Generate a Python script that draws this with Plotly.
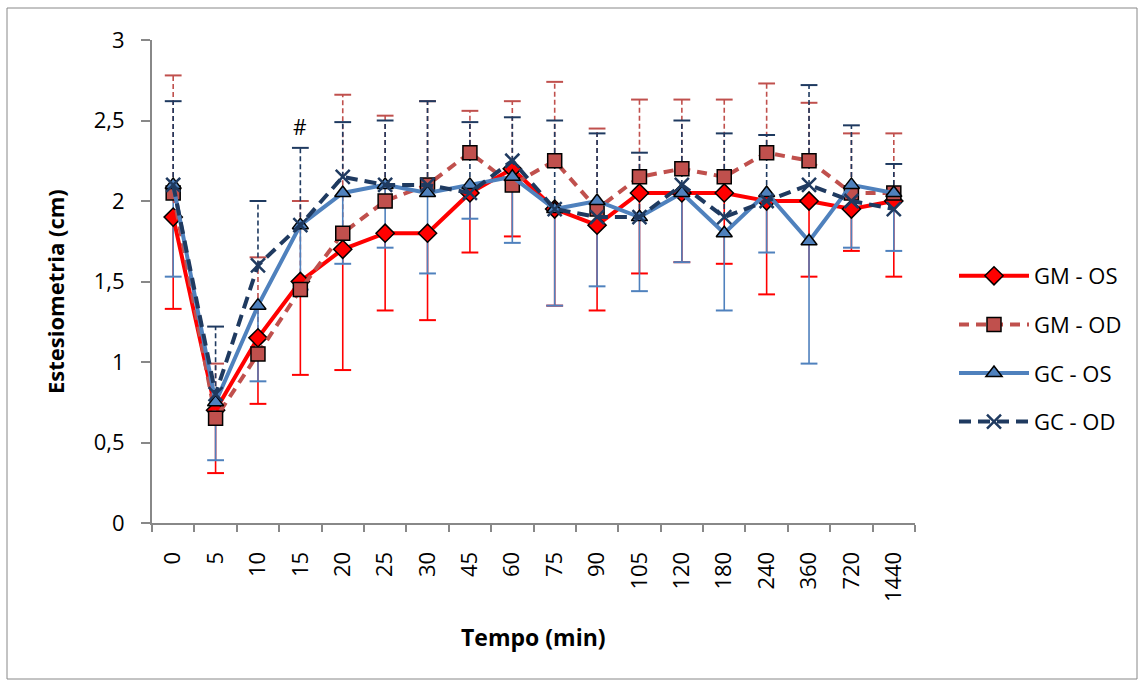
import plotly.graph_objects as go

# ---------------- data ----------------
times = ["0", "5", "10", "15", "20", "25", "30", "45", "60", "75", "90",
         "105", "120", "180", "240", "360", "720", "1440"]

gm_os = [1.90, 0.70, 1.15, 1.50, 1.70, 1.80, 1.80, 2.05, 2.20, 1.95, 1.85,
         2.05, 2.05, 2.05, 2.00, 2.00, 1.95, 2.00]
gm_os_sd = [0.57, 0.39, 0.41, 0.58, 0.75, 0.48, 0.54, 0.37, 0.42, 0.60, 0.53,
            0.50, 0.43, 0.44, 0.58, 0.47, 0.26, 0.47]

gm_od = [2.05, 0.65, 1.05, 1.45, 1.80, 2.00, 2.10, 2.30, 2.10, 2.25, 1.95,
         2.15, 2.20, 2.15, 2.30, 2.25, 2.05, 2.05]
gm_od_sd = [0.73, 0.34, 0.60, 0.55, 0.86, 0.53, 0.52, 0.26, 0.52, 0.49, 0.50,
            0.48, 0.43, 0.48, 0.43, 0.36, 0.37, 0.37]

gc_os = [2.10, 0.75, 1.35, 1.85, 2.05, 2.10, 2.05, 2.10, 2.15, 1.95, 2.00,
         1.90, 2.05, 1.80, 2.05, 1.75, 2.10, 2.05]
gc_os_sd = [0.57, 0.36, 0.47, 0.40, 0.44, 0.39, 0.50, 0.21, 0.41, 0.60, 0.53,
            0.46, 0.43, 0.48, 0.37, 0.76, 0.39, 0.36]

gc_od = [2.10, 0.80, 1.60, 1.85, 2.15, 2.10, 2.10, 2.05, 2.25, 1.95, 1.90,
         1.90, 2.10, 1.90, 2.00, 2.10, 2.00, 1.95]
gc_od_sd = [0.52, 0.42, 0.40, 0.48, 0.34, 0.40, 0.52, 0.44, 0.27, 0.55, 0.52,
            0.40, 0.40, 0.52, 0.41, 0.62, 0.47, 0.28]

series_names = ["GM - OS", "GM - OD", "GC - OS", "GC - OD"]
annot_text = "#"
annot_index = 3
annot_value = 2.46

# ---------------- styles ----------------
RED = "#FF0000"
BROWN = "#C0504D"
BLUE = "#4F81BD"
NAVY = "#1F3A60"
AXIS = "#888888"

W, H = 1141, 681
L, R, T, B = 152, 226, 40, 158
pw, ph = W - L - R, H - T - B

xs = list(range(len(times)))

fig = go.Figure()


def err_traces(vals, sds, sign, color, dash):
    ex, ey, cy = [], [], []
    for i, (v, s) in enumerate(zip(vals, sds)):
        end = v + sign * s
        ex += [i, i, None]
        ey += [v, end, None]
        cy.append(end)
    fig.add_trace(go.Scatter(x=ex, y=ey, mode="lines", showlegend=False,
                             hoverinfo="skip",
                             line=dict(color=color, width=1.6, dash=dash)))
    fig.add_trace(go.Scatter(x=xs, y=cy, mode="markers", showlegend=False,
                             hoverinfo="skip",
                             marker=dict(symbol="line-ew", size=12,
                                         line=dict(color=color, width=2))))


err_traces(gm_os, gm_os_sd, -1, RED, "solid")
err_traces(gm_od, gm_od_sd, +1, BROWN, "5px,3px")
err_traces(gc_os, gc_os_sd, -1, BLUE, "solid")
err_traces(gc_od, gc_od_sd, +1, NAVY, "5px,3px")

fig.add_trace(go.Scatter(
    x=xs, y=gm_os, name=series_names[0], mode="lines+markers",
    legendgroup="a",
    line=dict(color=RED, width=4),
    marker=dict(symbol="diamond", size=14, color=RED,
                line=dict(color="black", width=1.5))))
fig.add_trace(go.Scatter(
    x=xs, y=gm_od, name=series_names[1], mode="lines+markers",
    legendgroup="b",
    line=dict(color=BROWN, width=4, dash="10px,7px"),
    marker=dict(symbol="square", size=14, color=BROWN,
                line=dict(color="black", width=1.5))))
fig.add_trace(go.Scatter(
    x=xs, y=gc_os, name=series_names[2], mode="lines+markers",
    legendgroup="c",
    line=dict(color=BLUE, width=4),
    marker=dict(symbol="triangle-up", size=14, color=BLUE,
                line=dict(color="black", width=1.5))))
fig.add_trace(go.Scatter(
    x=xs, y=gc_od, name=series_names[3], mode="lines+markers",
    legendgroup="d",
    line=dict(color=NAVY, width=4, dash="12px,7px"),
    marker=dict(symbol="x-thin", size=14, color=NAVY,
                line=dict(color=NAVY, width=2.5))))

fig.add_annotation(x=annot_index, y=annot_value, text=annot_text,
                   showarrow=False, font=dict(family="Open Sans", size=21,
                                              color="black"))

# axis titles
fig.add_annotation(xref="paper", yref="paper", x=(55 - L) / pw,
                   y=(H - B - 291) / ph, text="<b>Estesiometria (cm)</b>",
                   textangle=-90, showarrow=False,
                   xanchor="center", yanchor="middle",
                   font=dict(family="Liberation Sans Narrow, Open Sans",
                             size=22, color="black"))
fig.add_annotation(xref="paper", yref="paper", x=(533 - L) / pw,
                   y=(H - B - 637) / ph, text="<b>Tempo (min)</b>",
                   showarrow=False, xanchor="center", yanchor="middle",
                   font=dict(family="Liberation Sans Narrow, Open Sans",
                             size=23, color="black"))

# outer chart border
fig.add_shape(type="rect", xref="paper", yref="paper",
              x0=(7 - L) / pw, x1=(1137 - L) / pw,
              y0=(H - B - 679) / ph, y1=(H - B - 8) / ph,
              line=dict(color=AXIS, width=1))

fig.update_layout(
    width=W, height=H,
    margin=dict(l=L, r=R, t=T, b=B, autoexpand=False),
    paper_bgcolor="white", plot_bgcolor="white",
    separators=", ",
    font=dict(family="Open Sans", size=21, color="black"),
    legend=dict(x=(954 - L) / pw, y=(H - B - 349) / ph, xanchor="left",
                yanchor="middle", itemwidth=70, tracegroupgap=17,
                traceorder="grouped",
                font=dict(family="Open Sans", size=22, color="black")),
    xaxis=dict(range=[-0.5, len(times) - 0.5], tickmode="array",
               tickvals=xs, ticktext=times, tickangle=-90,
               ticks="outside", ticklen=18, tickcolor="rgba(0,0,0,0)",
               showline=True, linecolor=AXIS, linewidth=2,
               showgrid=False, zeroline=False,
               tickfont=dict(family="Open Sans", size=22, color="black"),
               minor=dict(tick0=-0.5, dtick=1, ticks="outside", ticklen=7,
                          tickcolor=AXIS, tickwidth=1.5, showgrid=False)),
    yaxis=dict(range=[0, 3], dtick=0.5, tick0=0,
               ticks="outside", ticklen=9, tickcolor=AXIS, tickwidth=1.5,
               showline=True, linecolor=AXIS, linewidth=2,
               showgrid=False, zeroline=False, ticklabelstandoff=12,
               tickfont=dict(family="Open Sans", size=22, color="black")),
)

fig.write_html("out.html", config={"displayModeBar": False},
               post_script="document.body.style.margin='0';")
